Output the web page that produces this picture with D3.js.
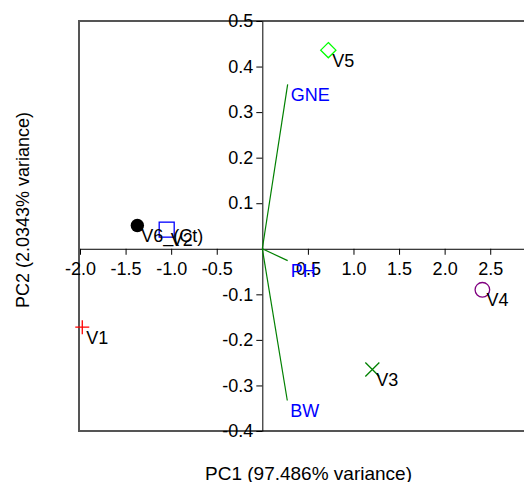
<!DOCTYPE html>
<html>
<head>
<meta charset="utf-8">
<script src="https://cdn.jsdelivr.net/npm/d3@7"></script>
<style>
  html, body { margin: 0; padding: 0; background: #fff; }
  svg { display: block; }
  text { font-family: "Liberation Sans", Arial, sans-serif; }
</style>
</head>
<body>
<svg id="chart" width="524" height="482"></svg>
<script>
// ---- data ----
const obsNames  = ["V1", "V2", "V3", "V4", "V5", "V6_(Ct)"];
const obsPC1    = [-1.975, -1.049, 1.207, 2.414, 0.724, -1.371];
const obsPC2    = [-0.172, 0.042, -0.265, -0.090, 0.436, 0.051];
const obsShapes = ["plus", "square", "cross", "circle", "diamond", "dot"];
const obsColors = ["#ff0000", "#0000ff", "#008000", "#800080", "#00ff00", "#000000"];

const varNames = ["GNE", "PH", "BW"];
const varPC1   = [0.278, 0.278, 0.274];
const varPC2   = [0.361, -0.026, -0.333];

const xTicks = [-2.0, -1.5, -1.0, -0.5, 0.5, 1.0, 1.5, 2.0, 2.5];
const yTicks = [0.5, 0.4, 0.3, 0.2, 0.1, -0.1, -0.2, -0.3, -0.4];

const xLabel = "PC1 (97.486% variance)";
const yLabel = "PC2 (2.0343% variance)";

// ---- layout ----
const svg = d3.select("#chart");
const x = d3.scaleLinear().domain([-2.0, 3.0]).range([80, 535.8]);
const y = d3.scaleLinear().domain([-0.4, 0.5]).range([431, 21]);
const FS = 18;

// plot box
svg.append("rect")
  .attr("x", x(-2.0) - 1).attr("y", y(0.5))
  .attr("width", x(3.0) - x(-2.0) + 1).attr("height", y(-0.4) - y(0.5))
  .attr("fill", "none").attr("stroke", "#555").attr("stroke-width", 2);

// axes through origin
const fmt = d => d.toFixed(1);
const gx = svg.append("g").attr("transform", `translate(0,${y(0)})`)
  .call(d3.axisBottom(x).tickValues(xTicks).tickFormat(fmt).tickSize(6).tickSizeOuter(0).tickPadding(7));
const gy = svg.append("g").attr("transform", `translate(${x(0)},0)`)
  .call(d3.axisLeft(y).tickValues(yTicks).tickFormat(fmt).tickSize(6).tickSizeOuter(0).tickPadding(3));
[gx, gy].forEach(g => {
  g.attr("font-family", null).attr("font-size", null);
  g.selectAll("text").attr("font-size", FS).attr("fill", "#000")
    .style("font-family", '"Liberation Sans", Arial, sans-serif');
  g.selectAll("line, path").attr("stroke", "#000").attr("stroke-width", 1);
});

// variable vectors
const vars = varNames.map((n, i) => ({name: n, px: varPC1[i], py: varPC2[i]}));
svg.append("g").selectAll("line").data(vars).join("line")
  .attr("x1", x(0)).attr("y1", y(0))
  .attr("x2", d => x(d.px)).attr("y2", d => y(d.py))
  .attr("stroke", "#008000").attr("stroke-width", 1.2);
svg.append("g").selectAll("text").data(vars).join("text")
  .attr("x", d => x(d.px) + 3).attr("y", d => y(d.py) + 16.7)
  .attr("font-size", FS).attr("fill", "#0000ff")
  .text(d => d.name);

// observations
const obs = obsNames.map((n, i) => ({name: n, px: obsPC1[i], py: obsPC2[i], shape: obsShapes[i], color: obsColors[i]}));
const gp = svg.append("g");
obs.forEach(d => {
  const cx = x(d.px), cy = y(d.py);
  const g = gp.append("g").attr("transform", `translate(${cx},${cy})`);
  if (d.shape === "plus") {
    g.append("path").attr("d", "M-7,0H7M0,-7V7").attr("stroke", d.color).attr("stroke-width", 1.3).attr("fill", "none");
  } else if (d.shape === "cross") {
    g.append("path").attr("d", "M-7,-7L7,7M-7,7L7,-7").attr("stroke", d.color).attr("stroke-width", 1.3).attr("fill", "none");
  } else if (d.shape === "square") {
    g.append("rect").attr("x", -7.5).attr("y", -7.5).attr("width", 15).attr("height", 15)
      .attr("fill", "none").attr("stroke", d.color).attr("stroke-width", 1.3);
  } else if (d.shape === "circle") {
    g.append("circle").attr("r", 7.3).attr("fill", "none").attr("stroke", d.color).attr("stroke-width", 1.3);
  } else if (d.shape === "diamond") {
    g.append("path").attr("d", "M0,-7.6L7.6,0L0,7.6L-7.6,0Z").attr("fill", "none").attr("stroke", d.color).attr("stroke-width", 1.3);
  } else if (d.shape === "dot") {
    g.append("circle").attr("r", 6.7).attr("fill", d.color);
  }
  gp.append("text").attr("x", cx + 4).attr("y", cy + 16.5)
    .attr("font-size", FS).attr("fill", "#000").text(d.name);
});

// axis titles
svg.append("text").attr("x", 308.5).attr("y", 480).attr("text-anchor", "middle")
  .attr("font-size", 19).attr("fill", "#000").text(xLabel);
svg.append("text").attr("transform", "translate(28.5,210) rotate(-90)").attr("text-anchor", "middle")
  .attr("font-size", FS).attr("fill", "#000").text(yLabel);
</script>
</body>
</html>
